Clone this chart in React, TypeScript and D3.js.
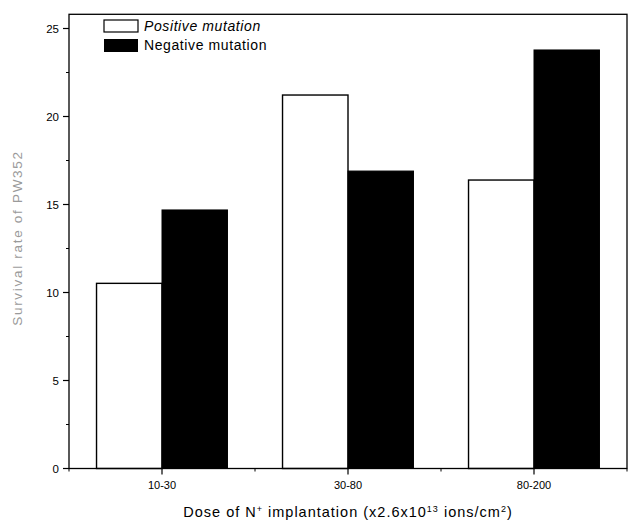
import React from "react";
import * as d3 from "d3";

const categories = ["10-30", "30-80", "80-200"];
const positive = [10.52, 21.22, 16.39];
const negative = [14.69, 16.9, 23.78];
const seriesNames = ["Positive mutation", "Negative mutation"];
const yTicks = [0, 5, 10, 15, 20, 25];

export default function App() {
  const W = 628, H = 525;
  const left = 69, right = 627, top = 14.3, bottom = 468.5;
  const x = d3.scaleLinear().domain([0, categories.length]).range([left, right]);
  const y = d3.scaleLinear().domain([0, 25]).range([bottom, 28.5]);
  const barW = 0.352;
  const font = "'Liberation Sans', Arial, sans-serif";
  const minorY = d3.range(0, 25.01, 2.5).filter((v) => v % 5 !== 0);
  const minorX = d3.range(0, categories.length + 0.01, 1);

  return (
    <svg width={W} height={H} style={{ position: "absolute", left: 0, top: 0 }} fontFamily={font}>
      <rect x={0} y={0} width={W} height={H} fill="#fff" />
      {/* bars */}
      {categories.map((c, i) => (
        <g key={c}>
          <rect
            x={x(i + 0.5 - barW)}
            y={y(positive[i])}
            width={x(barW) - x(0)}
            height={y(0) - y(positive[i])}
            fill="#fff"
            stroke="#000"
            strokeWidth={1.4}
          />
          <rect
            x={x(i + 0.5)}
            y={y(negative[i])}
            width={x(barW) - x(0)}
            height={y(0) - y(negative[i])}
            fill="#000"
            stroke="#000"
            strokeWidth={1}
          />
        </g>
      ))}
      {/* frame */}
      <rect x={left} y={top} width={right - left} height={bottom - top} fill="none" stroke="#000" strokeWidth={1.3} />
      {/* y ticks */}
      {yTicks.map((t) => (
        <g key={t}>
          <line x1={left - 6} x2={left} y1={y(t)} y2={y(t)} stroke="#000" strokeWidth={1.2} />
          <text x={left - 10} y={y(t) + 4} fontSize={11.5} textAnchor="end" fill="#000">
            {t}
          </text>
        </g>
      ))}
      {minorY.map((t) => (
        <line key={t} x1={left - 3} x2={left} y1={y(t)} y2={y(t)} stroke="#000" strokeWidth={1} />
      ))}
      {/* x ticks */}
      {categories.map((c, i) => (
        <g key={c}>
          <line x1={x(i + 0.5)} x2={x(i + 0.5)} y1={bottom} y2={bottom + 6} stroke="#000" strokeWidth={1.2} />
          <text x={x(i + 0.5)} y={bottom + 20} fontSize={11} textAnchor="middle" fill="#000">
            {c}
          </text>
        </g>
      ))}
      {minorX.map((t) => (
        <line key={t} x1={x(t)} x2={x(t)} y1={bottom} y2={bottom + 3} stroke="#000" strokeWidth={1} />
      ))}
      {/* legend */}
      <rect x={104} y={20} width={34} height={12} fill="#fff" stroke="#000" strokeWidth={1.2} />
      <text x={144} y={31} fontSize={14} letterSpacing={0.6} fontStyle="italic" fill="#000">
        {seriesNames[0]}
      </text>
      <rect x={104} y={39} width={34} height={13} fill="#000" />
      <text x={144} y={50} fontSize={14} letterSpacing={0.6} fill="#000">
        {seriesNames[1]}
      </text>
      {/* axis titles */}
      <text
        transform={`translate(22,238) rotate(-90)`}
        fontSize={13.5}
        letterSpacing={1.7}
        textAnchor="middle"
        fill="#9a9a9a"
      >
        Survival rate of PW352
      </text>
      <text x={348} y={517} fontSize={14.5} letterSpacing={1} textAnchor="middle" fill="#000">
        Dose of N<tspan fontSize={9} dy={-5}>+</tspan>
        <tspan dy={5}> implantation (x2.6x10</tspan>
        <tspan fontSize={9} dy={-5}>13</tspan>
        <tspan dy={5}> ions/cm</tspan>
        <tspan fontSize={9} dy={-5}>2</tspan>
        <tspan dy={5}>)</tspan>
      </text>
    </svg>
  );
}
